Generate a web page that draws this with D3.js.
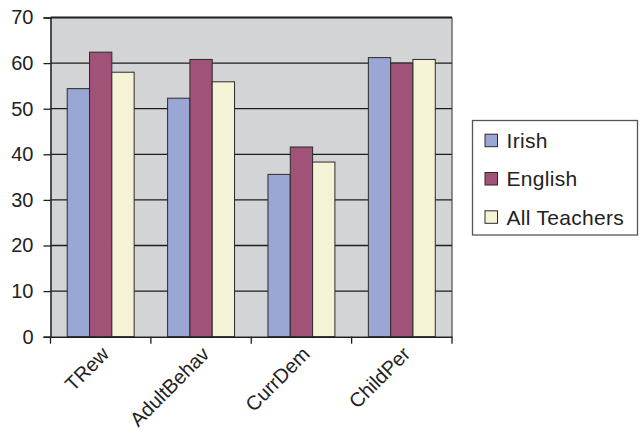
<!DOCTYPE html>
<html>
<head>
<meta charset="utf-8">
<script src="https://cdn.jsdelivr.net/npm/d3@7"></script>
<style>
  html, body { margin: 0; padding: 0; background: #fff; }
  svg { display: block; font-family: "Liberation Sans", Arial, sans-serif; }
</style>
</head>
<body>
<svg id="chart" width="640" height="434"></svg>
<script>
// Scale scores by category and teacher group
const categories = ["TRew", "AdultBehav", "CurrDem", "ChildPer"];
const seriesNames = ["Irish", "English", "All Teachers"];
const irish = [54.4, 52.3, 35.6, 61.2];
const english = [62.4, 60.8, 41.6, 60.0];
const allTeachers = [58.0, 55.9, 38.3, 60.8];
const yTicks = [0, 10, 20, 30, 40, 50, 60, 70];
const colors = ["#9aa6d3", "#a05277", "#f4f3d5"];

const seriesValues = [irish, english, allTeachers];

const svg = d3.select("#chart");
const plot = { left: 50.5, right: 452, top: 17.5, bottom: 336.7 };

const x0 = d3.scaleBand().domain(categories).range([plot.left, plot.right]).paddingInner(0).paddingOuter(0);
const x1 = d3.scaleBand().domain(seriesNames).range([0, x0.bandwidth()]).paddingInner(0).paddingOuter(0.75);
const y = d3.scaleLinear().domain([0, 70]).range([plot.bottom, plot.top]);

// plot area background
svg.append("rect")
  .attr("x", plot.left).attr("y", plot.top)
  .attr("width", plot.right - plot.left).attr("height", plot.bottom - plot.top)
  .attr("fill", "#d3d4d6");

// right border
svg.append("line")
  .attr("x1", plot.right).attr("x2", plot.right)
  .attr("y1", plot.top).attr("y2", plot.bottom)
  .attr("stroke", "#6e6e6e").attr("stroke-width", 1.5);

// horizontal gridlines
svg.append("g")
  .selectAll("line")
  .data(yTicks.filter(d => d > 0))
  .join("line")
  .attr("x1", plot.left).attr("x2", plot.right)
  .attr("y1", d => y(d)).attr("y2", d => y(d))
  .attr("stroke", "#1e1e1e")
  .attr("stroke-width", d => d === 70 ? 2 : 1.3);

// bars
const groups = svg.append("g")
  .selectAll("g")
  .data(categories)
  .join("g")
  .attr("transform", d => `translate(${x0(d)},0)`);

groups.selectAll("rect")
  .data((c, i) => seriesNames.map((s, j) => ({ s, j, v: seriesValues[j][i] })))
  .join("rect")
  .attr("x", d => x1(d.s))
  .attr("width", x1.bandwidth())
  .attr("y", d => y(d.v))
  .attr("height", d => y(0) - y(d.v))
  .attr("fill", d => colors[d.j])
  .attr("stroke", "#2a2a2a")
  .attr("stroke-width", 1);

// y axis
const yAxis = svg.append("g")
  .attr("transform", `translate(${plot.left},0)`)
  .call(d3.axisLeft(y).tickValues(yTicks).tickSize(7).tickPadding(10).tickFormat(d3.format("d")));
yAxis.select(".domain").attr("stroke", "#1e1e1e").attr("stroke-width", 1.5);
yAxis.selectAll(".tick line").attr("stroke", "#1e1e1e").attr("stroke-width", 1.3);
yAxis.selectAll("text").attr("font-size", 20).attr("fill", "#222")
  .attr("font-family", "'Liberation Sans', Arial, sans-serif");

// x axis
const xAxis = svg.append("g")
  .attr("transform", `translate(0,${plot.bottom})`)
  .call(d3.axisBottom(x0).tickSize(0).tickFormat(""));
xAxis.select(".domain").attr("stroke", "#1e1e1e").attr("stroke-width", 1.5);
// category boundary ticks
svg.append("g")
  .selectAll("line")
  .data(d3.range(categories.length + 1))
  .join("line")
  .attr("x1", i => plot.left + i * x0.bandwidth())
  .attr("x2", i => plot.left + i * x0.bandwidth())
  .attr("y1", plot.bottom).attr("y2", plot.bottom + 7)
  .attr("stroke", "#1e1e1e").attr("stroke-width", 1.3);

// rotated category labels
svg.append("g")
  .selectAll("text")
  .data(categories)
  .join("text")
  .attr("transform", d => `translate(${x0(d) + x0.bandwidth() / 2 - 1},${plot.bottom + 8}) rotate(-45)`)
  .attr("text-anchor", "end")
  .attr("dy", "0.75em")
  .attr("font-size", 20)
  .attr("fill", "#222")
  .text(d => d);

// legend
const legend = svg.append("g");
legend.append("rect")
  .attr("x", 472.5).attr("y", 120.5)
  .attr("width", 165).attr("height", 114.5)
  .attr("fill", "#fff").attr("stroke", "#555").attr("stroke-width", 1.3);

const items = legend.selectAll("g.item")
  .data(seriesNames)
  .join("g")
  .attr("class", "item")
  .attr("transform", (d, i) => `translate(485,${140.7 + i * 38.3})`);
items.append("rect")
  .attr("x", 0).attr("y", -6.5)
  .attr("width", 12.5).attr("height", 12.5)
  .attr("fill", (d, i) => colors[i])
  .attr("stroke", "#2a2a2a").attr("stroke-width", 1);
items.append("text")
  .attr("x", 21.5).attr("y", 0)
  .attr("dy", "0.35em")
  .attr("font-size", 21)
  .attr("letter-spacing", 0.3)
  .attr("fill", "#222")
  .text(d => d);
</script>
</body>
</html>
